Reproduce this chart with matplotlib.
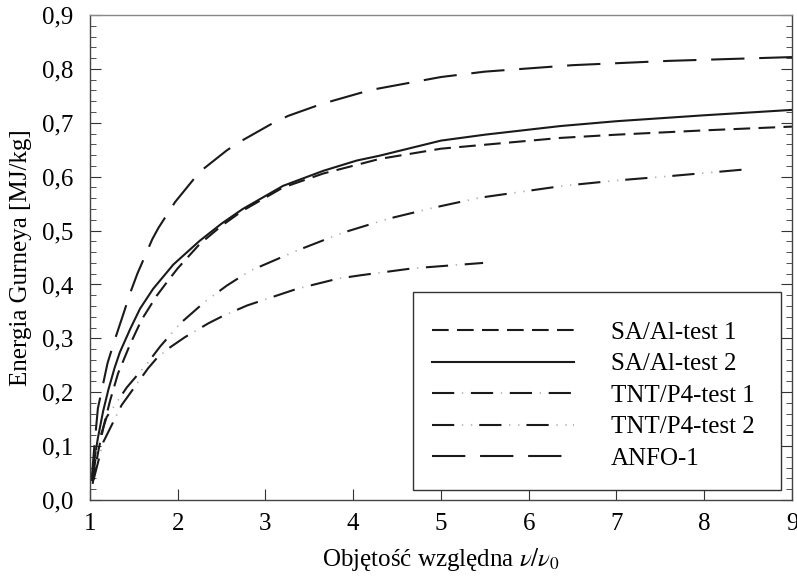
import matplotlib
matplotlib.use("Agg")
import matplotlib.pyplot as plt
from matplotlib.legend_handler import HandlerTuple
from matplotlib.patches import Rectangle
from matplotlib.ticker import MultipleLocator, FuncFormatter

plt.rcParams["font.family"] = ["Liberation Serif", "DejaVu Serif"]
plt.rcParams["mathtext.fontset"] = "stix"
plt.rcParams["lines.scale_dashes"] = False

# values
anfo_x = [1.02, 1.05, 1.09, 1.2, 1.28, 1.38, 1.46, 1.54, 1.71, 1.78, 1.97, 2.25, 2.56, 2.71,
          3.09, 3.26, 3.64, 4.2, 5.0, 5.5, 6.5, 7.6, 9.0]
anfo_y = [0.04, 0.10, 0.17, 0.254, 0.296, 0.345, 0.385, 0.42, 0.484, 0.505, 0.553, 0.609, 0.649, 0.665,
          0.70, 0.713, 0.735, 0.761, 0.785, 0.795, 0.807, 0.815, 0.822]

sa2_x = [1.023, 1.05, 1.09, 1.15, 1.21, 1.28, 1.34, 1.46, 1.57, 1.72, 1.95, 2.25, 2.5, 2.74, 3.2,
         3.66, 4.04, 4.3, 5.0, 5.5, 6.36, 7.0, 8.0, 9.0]
sa2_y = [0.037, 0.075, 0.115, 0.165, 0.205, 0.245, 0.274, 0.318, 0.355, 0.392, 0.437, 0.481, 0.513, 0.54, 0.583,
         0.611, 0.63, 0.639, 0.667, 0.678, 0.694, 0.703, 0.714, 0.724]

sa1_x = [1.03, 1.06, 1.1, 1.16, 1.23, 1.32, 1.46, 1.59, 1.76, 1.88, 2.0, 2.25, 2.5, 2.74, 3.2,
         3.66, 4.04, 4.3, 5.0, 6.36, 7.0, 8.0, 9.0]
sa1_y = [0.03, 0.06, 0.095, 0.14, 0.185, 0.235, 0.29, 0.335, 0.379, 0.405, 0.43, 0.475, 0.509, 0.537, 0.58,
         0.606, 0.622, 0.633, 0.652, 0.672, 0.678, 0.686, 0.693]

tnt2_x = [1.03, 1.08, 1.19, 1.42, 1.66, 1.8, 2.03, 2.31, 2.56, 2.82, 3.36, 3.88, 4.40, 4.93,
          5.44, 6.39, 7.0, 7.6, 8.43]
tnt2_y = [0.035, 0.098, 0.154, 0.209, 0.255, 0.285, 0.328, 0.368, 0.398, 0.425, 0.463, 0.496, 0.522, 0.543,
          0.561, 0.583, 0.593, 0.601, 0.613]

tnt1_x = [1.04, 1.15, 1.36, 1.66, 1.76, 1.91, 2.08, 2.35, 2.52, 2.79, 3.36, 3.83, 4.08, 4.68, 5.48]
tnt1_y = [0.037, 0.107, 0.176, 0.244, 0.263, 0.283, 0.302, 0.328, 0.342, 0.361, 0.392, 0.411, 0.417, 0.43, 0.44]

labels = ["SA/Al-test 1", "SA/Al-test 2", "TNT/P4-test 1", "TNT/P4-test 2", "ANFO-1"]

dark = "#1a1a1a"
dots = "#b0b0b0"
lw = 1.5

fig = plt.figure(figsize=(7.97, 5.79), dpi=100)
ax = fig.add_axes([0.1129, 0.1364, 0.8808, 0.8376])

l_sa1, = ax.plot(sa1_x, sa1_y, color=dark, lw=lw, dashes=(12, 6))
l_sa2, = ax.plot(sa2_x, sa2_y, color=dark, lw=lw)

# TNT/P4-test 1: dash + one faint dot
l_t1a, = ax.plot(tnt1_x, tnt1_y, color=dark, lw=lw, dashes=(16, 12))
l_t1b, = ax.plot(tnt1_x, tnt1_y, color=dots, lw=1.2)
l_t1b.set_linestyle((6.5, (1, 27)))

# TNT/P4-test 2: dash + two faint dots
l_t2a, = ax.plot(tnt2_x, tnt2_y, color=dark, lw=lw, dashes=(16, 18))
l_t2b, = ax.plot(tnt2_x, tnt2_y, color=dots, lw=1.2)
l_t2b.set_linestyle((12.5, (1, 5.5, 1, 26.5)))

l_anfo, = ax.plot(anfo_x, anfo_y, color=dark, lw=lw, dashes=(24, 10.6))

ax.set_xlim(1, 9)
ax.set_ylim(0, 0.9)
ax.xaxis.set_major_locator(MultipleLocator(1))
ax.yaxis.set_major_locator(MultipleLocator(0.1))
ax.yaxis.set_minor_locator(MultipleLocator(0.02))
ax.yaxis.set_major_formatter(FuncFormatter(lambda v, p: f"{v:.1f}".replace(".", ",")))

ax.tick_params(axis="y", which="both", direction="in", left=True, right=True,
               labelsize=18, pad=12, color="#333333")
ax.tick_params(axis="y", which="major", length=8)
ax.tick_params(axis="y", which="minor", length=4)
ax.tick_params(axis="x", which="both", direction="in", bottom=True, top=False,
               labelsize=18, pad=9, length=8, color="#333333")

for s in ax.spines.values():
    s.set_color("#444444")
    s.set_linewidth(1.0)
ax.spines["top"].set_color("#888888")

ax.set_xlabel(r"Objętość względna $\nu/\nu_0$", fontsize=18, labelpad=8)
ax.set_ylabel("Energia Gurneya [MJ/kg]", fontsize=18, labelpad=7)

# legend box drawn separately so its padding matches the original
ax.add_patch(Rectangle((0.4601, 0.0206), 0.5242, 0.4082, transform=ax.transAxes,
                       facecolor="white", edgecolor="#333333", lw=1.0, zorder=4))
leg = ax.legend([l_sa1, l_sa2, (l_t1a, l_t1b), (l_t2a, l_t2b), l_anfo], labels,
                handler_map={tuple: HandlerTuple(ndivide=1, pad=0)},
                loc="center left", bbox_to_anchor=(0.487, 0.2155), borderaxespad=0,
                fontsize=18, handlelength=5.7, handletextpad=1.45, labelspacing=0.36,
                borderpad=0, frameon=False)
leg.set_zorder(5)

fig.savefig("out.png", dpi=100)
